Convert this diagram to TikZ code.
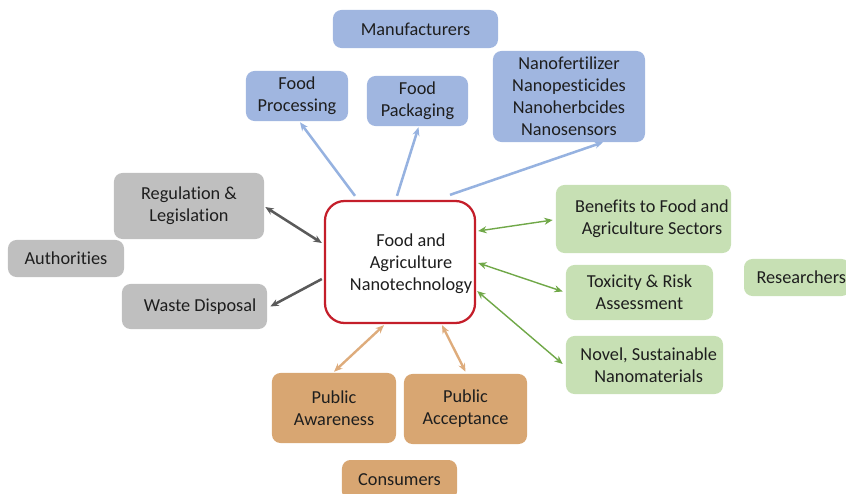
\documentclass[tikz,border=0pt]{standalone}
\usepackage{fontspec}
\setmainfont{Carlito}[Ligatures=CommonOff]
\usepackage{xcolor}
\usepackage{tikz}
\usetikzlibrary{arrows.meta, positioning, calc}
\definecolor{bluefill}{RGB}{160,182,224}
\definecolor{grayfill}{RGB}{191,191,191}
\definecolor{greenfill}{RGB}{199,224,180}
\definecolor{orangefill}{RGB}{216,166,114}
\definecolor{bluearrow}{RGB}{150,178,224}
\definecolor{grayarrow}{RGB}{90,90,90}
\definecolor{greenarrow}{RGB}{112,168,72}
\definecolor{orangearrow}{RGB}{222,172,124}
\definecolor{hubred}{RGB}{196,30,42}
\definecolor{textdark}{RGB}{30,30,30}

\begin{document}
\begin{tikzpicture}[x=0.025cm, y=-0.025cm,
		font=\fontsize{13}{15.6}\selectfont, text=textdark,
		>={Stealth[length=6pt, width=5pt]},
		box/.style={rounded corners=6pt, inner sep=0pt, align=center},
		bluebox/.style={box, fill=bluefill},
		graybox/.style={box, fill=grayfill},
		greenbox/.style={box, fill=greenfill},
		orangebox/.style={box, fill=orangefill},
		bluelink/.style={->, bluearrow, line width=1.8pt},
		graylink/.style={grayarrow, line width=1.8pt},
		greenlink/.style={<->, greenarrow, line width=1pt},
		orangelink/.style={<->, orangearrow, line width=1.7pt}]
		\useasboundingbox (0,0) rectangle (846,493);

		% centre
		\node [draw=hubred, line width=1.6pt, rounded corners=14pt, fill=white,
			minimum width=3.75cm, minimum height=3.05cm] (hub) at (400,262) {};
		\node [align=center] (hubtext) at (411,264) {Food and\\Agriculture\\Nanotechnology};

		% manufacturers
		\node [bluebox, minimum width=4.125cm, minimum height=0.95cm] (manu) at (415.5,29) {Manufacturers};
		\node [bluebox, minimum width=2.55cm, minimum height=1.25cm] (fproc) at (297,96) {Food\\Processing};
		\node [bluebox, minimum width=2.525cm, minimum height=1.25cm] (pack) at (417.5,101) {Food\\Packaging};
		\node [bluebox, minimum width=3.8cm, minimum height=2.275cm] (nano) at (569,96.5) {Nanofertilizer\\Nanopesticides\\Nanoherbcides\\Nanosensors};

		% authorities
		\node [graybox, minimum width=3.75cm, minimum height=1.65cm] (reg) at (189,206) {Regulation \&\\Legislation};
		\node [graybox, minimum width=2.9cm, minimum height=0.925cm] (auth) at (66,258.5) {Authorities};
		\node [graybox, minimum width=3.625cm, minimum height=1.125cm] (waste) at (194.5,306.5) {\hspace*{8pt}Waste Disposal};

		% researchers
		\node [greenbox, minimum width=4.375cm, minimum height=1.7cm] (ben) at (643.5,219) {\hspace*{12pt}Benefits to Food and\\\hspace*{12pt}Agriculture Sectors};
		\node [greenbox, minimum width=3.675cm, minimum height=1.375cm] (tox) at (639.5,292.5) {Toxicity \& Risk\\Assessment};
		\node [greenbox, minimum width=3.925cm, minimum height=1.45cm] (nov) at (644.5,365) {\hspace*{6pt}Novel, Sustainable\\\hspace*{6pt}Nanomaterials};
		\node [greenbox, minimum width=2.65cm, minimum height=0.925cm] (res) at (797,277.5) {\hspace*{6pt}Researchers};

		% consumers
		\node [orangebox, minimum width=3.1cm, minimum height=1.75cm] (aware) at (334,408) {Public\\Awareness};
		\node [orangebox, minimum width=3.075cm, minimum height=1.75cm] (accept) at (465.5,409) {Public\\Acceptance};
		\node [orangebox, minimum width=2.875cm, minimum height=1.0cm] (cons) at (399.5,480) {Consumers};

		\draw [bluelink] ($(hub.north)+(-45,-4)$) -- ($(fproc.south)+(3,1)$);
		\draw [bluelink] ($(hub.north)+(-3,-4)$) -- ($(pack.south)+(1,1)$);
		\draw [bluelink] ($(hub.north)+(50,-5)$) -- ($(nano.south)+(34,0)$);

		\draw [graylink, <->] ($(hub.west)+(-2,-19)$) -- ($(reg.east)+(1,1)$);
		\draw [graylink, ->] ($(hub.west)+(-2,17)$) -- ($(waste.east)+(3,0)$);

		\draw [greenlink] ($(hub.east)+(2,-31)$) -- ($(ben.west)+(-3,1)$);
		\draw [greenlink] ($(hub.east)+(2,1)$) -- ($(tox.west)+(-3,-1)$);
		\draw [greenlink] ($(hub.east)+(1,29)$) -- ($(nov.west)+(-3,-1)$);

		\draw [orangelink] ($(hub.south)+(-16,1)$) -- ($(aware.north)+(0,-1)$);
		\draw [orangelink] ($(hub.south)+(42,1)$) -- ($(accept.north)+(0,-2)$);
	\end{tikzpicture}
\end{document}
